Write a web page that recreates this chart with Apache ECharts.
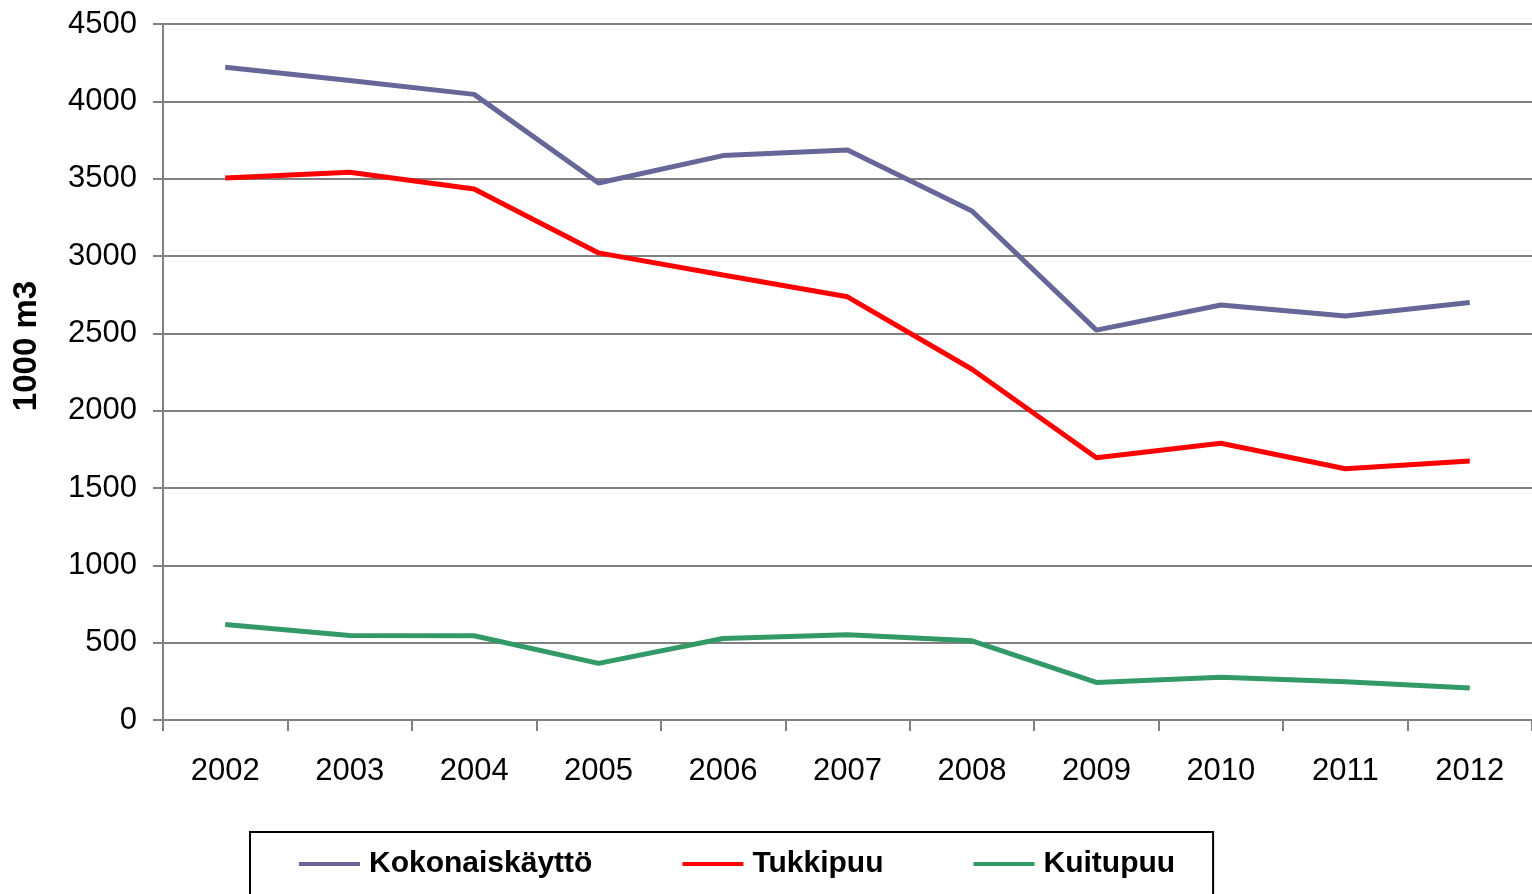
<!DOCTYPE html>
<html>
<head>
<meta charset="utf-8">
<script src="https://cdn.jsdelivr.net/npm/echarts@6/dist/echarts.min.js"></script>
<style>
html,body{margin:0;padding:0;background:#fff;}
#chart{width:1532px;height:894px;}
</style>
</head>
<body>
<div id="chart"></div>
<script>
const years = ['2002','2003','2004','2005','2006','2007','2008','2009','2010','2011','2012'];
const kokonaiskaytto = [4220, 4134, 4045, 3472, 3649, 3685, 3291, 2521, 2683, 2612, 2700];
const tukkipuu = [3505, 3542, 3433, 3020, 2877, 2736, 2268, 1696, 1789, 1624, 1675];
const kuitupuu = [617, 547, 545, 366, 527, 551, 512, 243, 277, 247, 207];
const yTicks = { min: 0, max: 4500, interval: 500 };
const yName = '1000 m3';

const font = '"Liberation Sans", Arial, sans-serif';
const gray = '#808080';

const chart = echarts.init(document.getElementById('chart'), null, { renderer: 'canvas' });
chart.setOption({
  animation: false,
  backgroundColor: '#ffffff',
  grid: { left: 163, right: 0, top: 24, bottom: 174, containLabel: false, outerBoundsMode: 'none' },
  legend: {
    left: 250,
    top: 832,
    padding: [17, 38, 40, 49],
    borderColor: '#000000',
    borderWidth: 2,
    itemGap: 90,
    itemWidth: 61,
    itemHeight: 4,
    icon: 'rect',
    textStyle: {
      fontFamily: font,
      fontWeight: 'bold',
      fontSize: 30,
      color: '#000000',
      padding: [0, 0, 0, 4]
    },
    data: ['Kokonaiskäyttö', 'Tukkipuu', 'Kuitupuu']
  },
  xAxis: {
    type: 'category',
    data: years,
    boundaryGap: true,
    axisLine: { show: true, lineStyle: { color: gray, width: 2 } },
    axisTick: { show: true, length: 11, interval: 0, lineStyle: { color: gray, width: 2 } },
    axisLabel: { interval: 0, margin: 36, fontFamily: font, fontSize: 31, color: '#000000' },
    splitLine: { show: false }
  },
  yAxis: {
    type: 'value',
    min: yTicks.min,
    max: yTicks.max,
    interval: yTicks.interval,
    name: yName,
    nameLocation: 'middle',
    nameRotate: 90,
    nameGap: 120,
    nameTextStyle: {
      fontFamily: font,
      fontWeight: 'bold',
      fontSize: 33,
      color: '#000000',
      padding: [0, 0, 0, 52]
    },
    axisLine: { show: true, lineStyle: { color: gray, width: 2 } },
    axisTick: { show: true, length: 10, lineStyle: { color: gray, width: 2 } },
    axisLabel: {
      margin: 26, fontFamily: font, fontSize: 31, color: '#000000',
      formatter: function (v) { return String(v); }
    },
    splitLine: { show: true, lineStyle: { color: gray, width: 2 } }
  },
  series: [
    { name: 'Kokonaiskäyttö', type: 'line', data: kokonaiskaytto, showSymbol: false, symbol: 'none',
      lineStyle: { color: '#666699', width: 5 }, itemStyle: { color: '#666699' } },
    { name: 'Tukkipuu', type: 'line', data: tukkipuu, showSymbol: false, symbol: 'none',
      lineStyle: { color: '#ff0000', width: 5 }, itemStyle: { color: '#ff0000' } },
    { name: 'Kuitupuu', type: 'line', data: kuitupuu, showSymbol: false, symbol: 'none',
      lineStyle: { color: '#339966', width: 5 }, itemStyle: { color: '#339966' } }
  ]
});
</script>
</body>
</html>
